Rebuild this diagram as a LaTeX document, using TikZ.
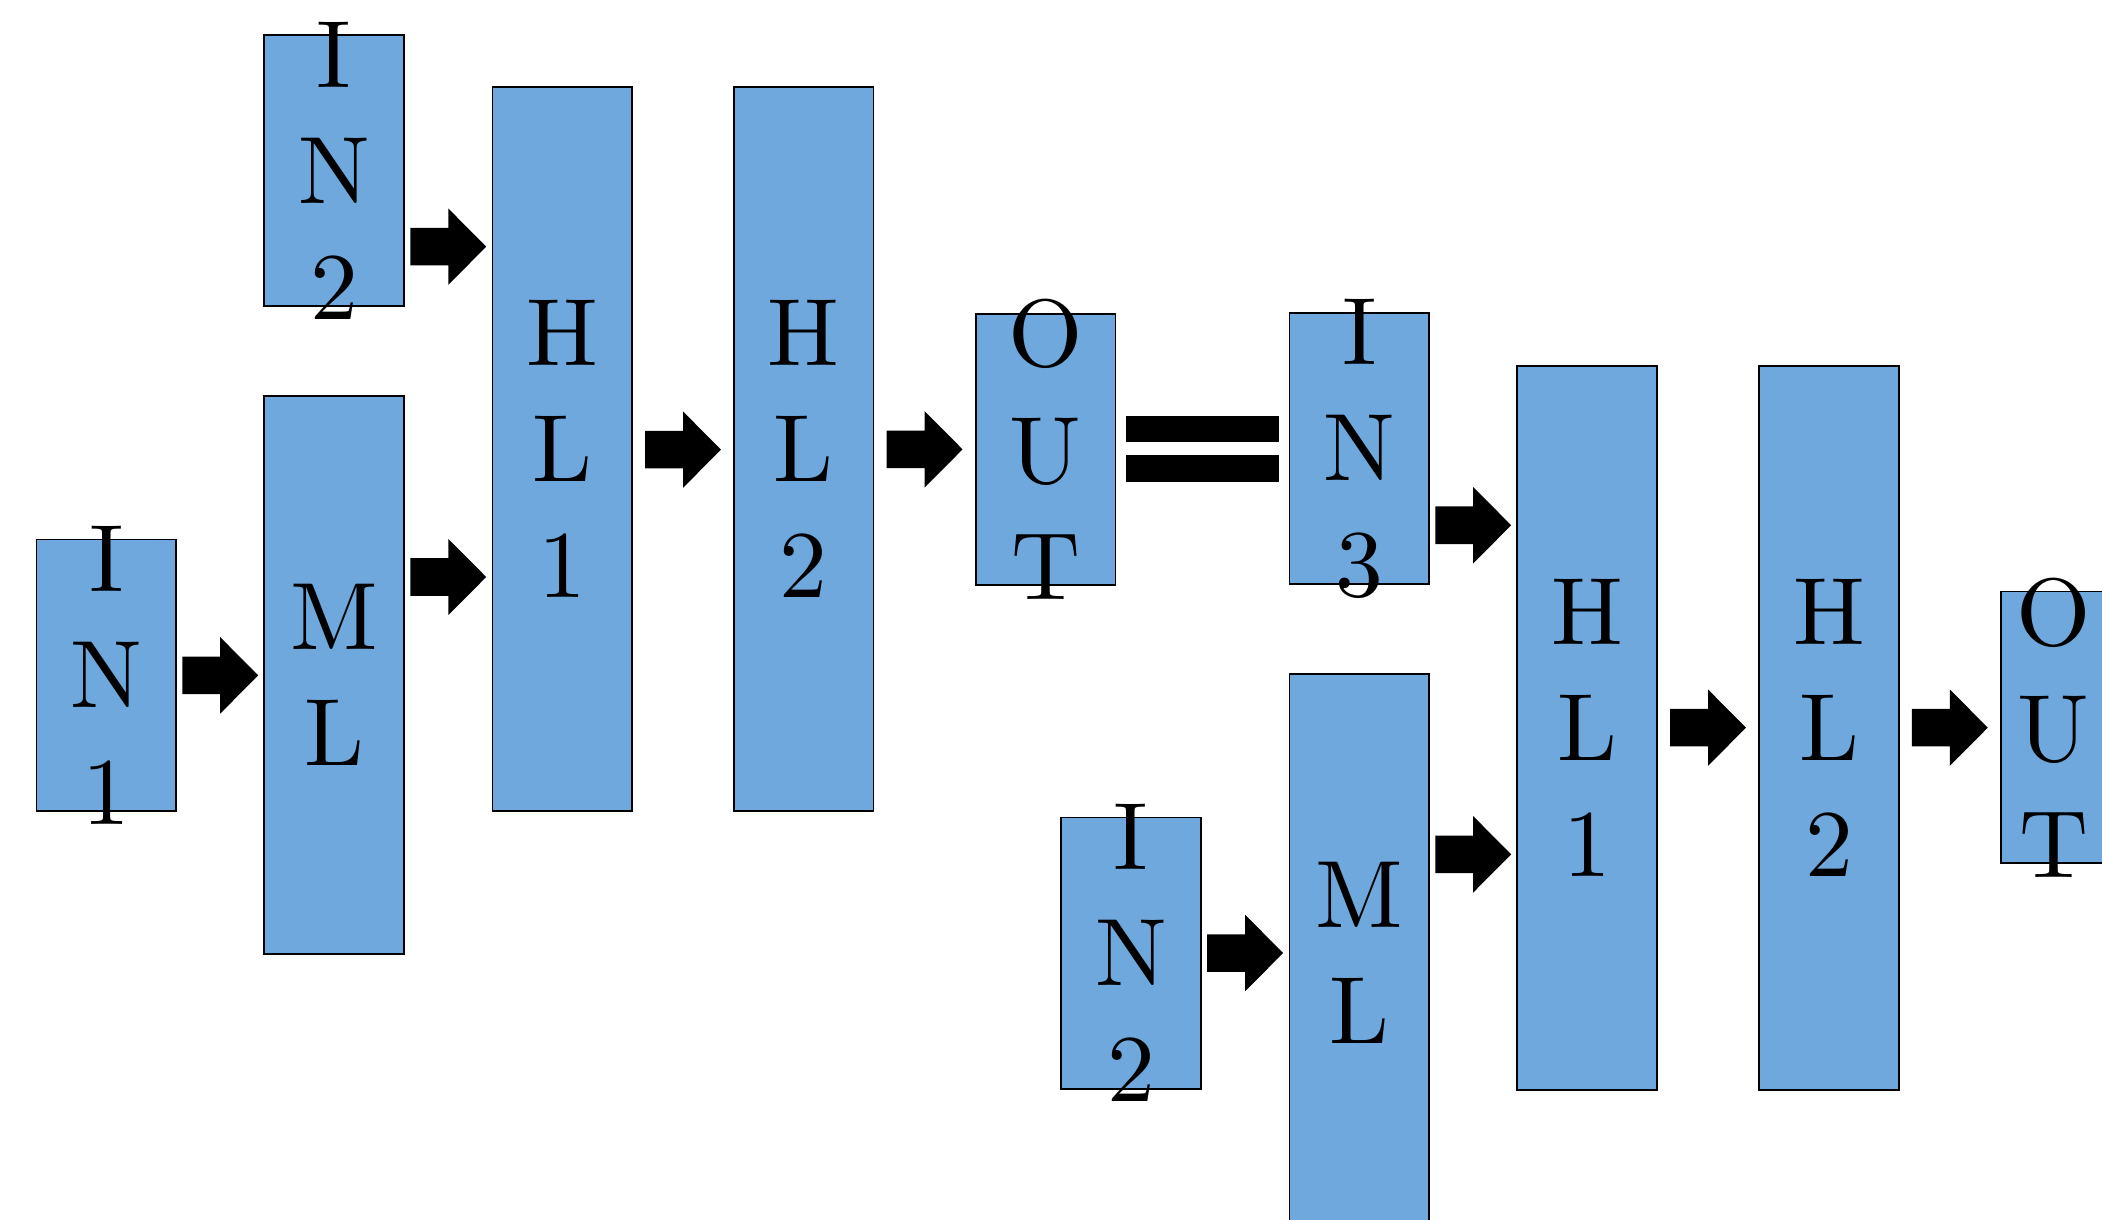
\documentclass[tikz,border=0pt]{standalone}
\usepackage{fontspec}
\usetikzlibrary{calc}
\newfontfamily\lblfam{lmroman10-regular}[Extension=.otf]
\definecolor{boxblue}{HTML}{6FA8DC}
\newcommand{\lblfont}{\lblfam\fontsize{40.6pt}{49.3pt}\selectfont}
\newcommand{\blockarr}[4]{%
  \coordinate (#1-y) at (0,#4);
  \coordinate (#1-m) at ($(#2.east)!0.5!(#3.west)$);
  \fill[arrowfill] (#1-m |- #1-y) ++(-28.3,-14) -- ++(28.3,0) -- ++(0,-14.5)
    -- ++(28.3,28.5) -- ++(-28.3,28.5) -- ++(0,-14.5) -- ++(-28.3,0) -- cycle;
}
\begin{document}
\begin{tikzpicture}[x=0.02cm,y=-0.02cm,
  layer/.style={draw=black, line width=0.7pt, fill=boxblue, rectangle,
    inner sep=0pt, outer sep=0pt, anchor=north west, minimum width=2.084cm},
  inbox/.style={layer, minimum height=4.05cm},
  mlbox/.style={layer, minimum height=8.324cm},
  hlbox/.style={layer, minimum height=10.804cm},
  lbl/.style={font=\lblfont, align=center, inner sep=0pt, text=black},
  arrowfill/.style={fill=black}]
\useasboundingbox (0,0) rectangle (1568,910);
\clip (0,0) rectangle (1568,910);
% first network
\node[inbox] (in1) at (27.3,402.5) {};
\node[mlbox] (ml) at (197.1,295.4) {};
\node[inbox] (in2) at (197.1,26) {};
\node[hlbox] (hl1) at (367.5,65) {};
\node[hlbox] (hl2) at (547.3,65) {};
\node[inbox] (out) at (728,234) {};
% second network
\node[inbox] (in3) at (961.9,233.4) {};
\node[inbox] (in2b) at (791.6,609.8) {};
\node[mlbox] (mlb) at (961.9,503) {};
\node[hlbox] (hl1b) at (1131.8,273) {};
\node[hlbox] (hl2b) at (1312.2,273) {};
\node[inbox] (outb) at (1492.6,441.3) {};
% labels
\node[lbl] (t-in1) at (in1.center) {I\\N\\1};
\node[lbl] (t-ml) at (ml.center) {M\\L};
\node[lbl] (t-in2) at (in2.center) {I\\N\\2};
\node[lbl] (t-hl1) at (hl1.center) {H\\L\\1};
\node[lbl] (t-hl2) at (hl2.center) {H\\L\\2};
\node[lbl] (t-out) at (out.center) {O\\U\\T};
\node[lbl] (t-in3) at (in3.center) {I\\N\\3};
\node[lbl] (t-in2b) at (in2b.center) {I\\N\\2};
\node[lbl] (t-mlb) at (mlb.center) {M\\L};
\node[lbl] (t-hl1b) at (hl1b.center) {H\\L\\1};
\node[lbl] (t-hl2b) at (hl2b.center) {H\\L\\2};
\coordinate (outbtext) at (1532,542.8);
\node[lbl] (t-outb) at (outbtext) {O\\U\\T};
% block arrows
\blockarr{a1}{in1}{ml}{503.8}
\blockarr{a2}{in2}{hl1}{184}
\blockarr{a3}{ml}{hl1}{430.4}
\blockarr{a4}{hl1}{hl2}{335.4}
\blockarr{a5}{hl2}{out}{335.2}
\blockarr{a6}{in3}{hl1b}{391.8}
\blockarr{a7}{mlb}{hl1b}{637.3}
\blockarr{a8}{in2b}{mlb}{710.9}
\blockarr{a9}{hl1b}{hl2b}{542.8}
\blockarr{a10}{hl2b}{outb}{542.8}
% equals sign
\fill ($(out.east)+(8,-25.2)$) rectangle ($(in3.west)+(-8,-4.6)$);
\fill ($(out.east)+(8,4.4)$) rectangle ($(in3.west)+(-8,24.9)$);
\end{tikzpicture}
\end{document}
